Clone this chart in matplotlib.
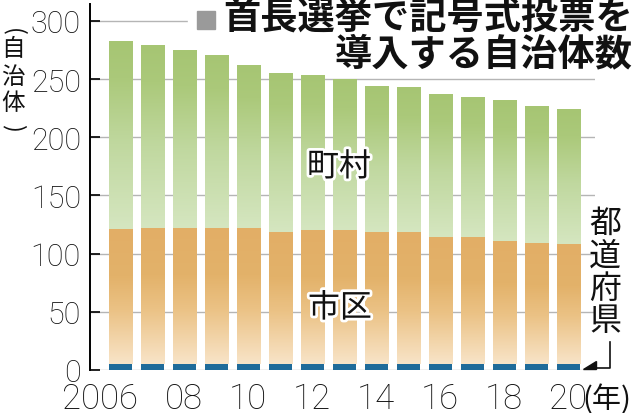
import numpy as np
import matplotlib
matplotlib.use('Agg')
import matplotlib.pyplot as plt
from matplotlib.colors import LinearSegmentedColormap
from matplotlib.transforms import Affine2D, blended_transform_factory
from matplotlib.patches import Rectangle, Polygon
from matplotlib.lines import Line2D
import matplotlib.patheffects as pe

# ---- data ----
years = list(range(2006, 2021))
pref = [5, 5, 5, 5, 5, 5, 5, 5, 5, 5, 5, 5, 5, 5, 5]            # 都道府県
city = [116, 117, 117, 117, 117, 114, 115, 115, 114, 114, 109, 109, 106, 104, 103]  # 市区
town = [162, 157, 153, 149, 140, 136, 134, 130, 125, 124, 123, 121, 121, 118, 116]  # 町村
xtick_labels = ['2006', '08', '10', '12', '14', '16', '18', '20']
yticks = [0, 50, 100, 150, 200, 250, 300]

JP = ['Noto Sans CJK JP', 'DejaVu Sans']
NUM = ['Roboto', 'DejaVu Sans']
INK = '#111111'

W, H = 635, 414
fig = plt.figure(figsize=(W / 100, H / 100), dpi=100)
pxT = Affine2D().scale(1 / W, -1 / H).translate(0, 1) + fig.transFigure

ax = fig.add_axes([90 / W, 43 / H, 505 / W, 366 / H])
x = np.arange(len(years))
bw = 0.72

b_pref = ax.bar(x, pref, bw, color='#1f6b9a', zorder=3)
b_city = ax.bar(x, city, bw, bottom=pref, color='#e3b26b', zorder=3)
b_town = ax.bar(x, town, bw, bottom=np.add(pref, city), color='#a9c878', zorder=3)

cm_city = LinearSegmentedColormap.from_list('c', [(0, '#f8e4c8'), (0.4, '#ebc285'), (0.65, '#e3b26a'), (1, '#e2ae66')])
cm_town = LinearSegmentedColormap.from_list('t', [(0, '#d5e6c0'), (0.45, '#c0d89f'), (0.8, '#abc97a'), (1, '#a6c573')])
grad = np.linspace(0, 1, 256).reshape(-1, 1)
for bars, cm in ((b_city, cm_city), (b_town, cm_town)):
    for b in bars:
        x0, y0, bwid, bh = b.get_x(), b.get_y(), b.get_width(), b.get_height()
        im = ax.imshow(grad, extent=[x0, x0 + bwid, y0, y0 + bh], origin='lower',
                       cmap=cm, aspect='auto', zorder=3.5, interpolation='bilinear')
        im.set_clip_path(b)

ax.set_xlim(-0.94, 14.84)
ax.set_ylim(0, 314.6)
ax.set_yticks(yticks)
ax.set_yticklabels([str(v) for v in yticks], family=NUM, fontsize=22, weight='light')
ax.set_xticks([])
ax.tick_params(axis='y', direction='in', length=7.5, width=1.3, pad=6.5, colors=INK)
ax.yaxis.grid(True, color='#b5b5b5', lw=1)
ax.set_axisbelow(True)
for s in ('top', 'right', 'bottom'):
    ax.spines[s].set_visible(False)
ax.spines['left'].set_linewidth(1.4)

# x labels: last two digits centred under each even-year bar
xl = blended_transform_factory(ax.transData, pxT)
for i, lab in zip(x[::2], xtick_labels):
    if len(lab) == 4:
        ax.text(i + 0.56, 409, lab, transform=xl, ha='right', va='baseline', family=NUM,
                fontsize=25, weight='light', color=INK, clip_on=False)
    else:
        ax.text(i, 409, lab, transform=xl, ha='center', va='baseline', family=NUM,
                fontsize=25, weight='light', color=INK, clip_on=False)
ax.text(x[-1] + 0.46, 408, '(年)', transform=xl, ha='left', va='baseline', family=JP,
        fontsize=21, color=INK, clip_on=False)

# labels inside chart
stroke = [pe.withStroke(linewidth=4, foreground='white')]
fig.text(339, 168, '町村', transform=pxT, ha='center', va='center', family=JP, fontsize=23,
         color=INK, path_effects=stroke, zorder=5)
fig.text(340, 309, '市区', transform=pxT, ha='center', va='center', family=JP, fontsize=23,
         color=INK, path_effects=stroke, zorder=5)
for i, ch in enumerate('都道府県'):
    fig.text(605, 224 + i * 32.5, ch, transform=pxT, ha='center', va='center', family=JP,
             fontsize=23, color=INK)
fig.add_artist(Line2D([610, 610, 594], [343, 369, 369], transform=pxT, color=INK, lw=1.2))
fig.add_artist(Polygon([[583, 370], [596, 370], [596, 362]], closed=True, transform=pxT,
                       color=INK))

# y axis label (vertical)
fig.text(13, 32, '(', transform=pxT, ha='center', va='center', family=JP, fontsize=17, rotation=-90, color=INK)
for i, ch in enumerate('自治体'):
    fig.text(13, 50 + i * 27, ch, transform=pxT, ha='center', va='center', family=JP,
             fontsize=17, color=INK)
fig.text(13, 128, ')', transform=pxT, ha='center', va='center', family=JP, fontsize=17, rotation=-90, color=INK)

# title
fig.add_artist(Rectangle((188, 0), 447, 36, transform=pxT, color='white', zorder=1))
fig.add_artist(Rectangle((197, 12), 18, 18, transform=pxT, color='#9a9a9a', zorder=2))
fig.text(633, 18, '首長選挙で記号式投票を', transform=pxT, ha='right', va='center', family=JP,
         fontsize=26.8, weight='bold', color=INK, zorder=3)
fig.text(633, 55, '導入する自治体数', transform=pxT, ha='right', va='center', family=JP,
         fontsize=26.8, weight='bold', color=INK, zorder=3)

fig.savefig('out.png', dpi=100)
